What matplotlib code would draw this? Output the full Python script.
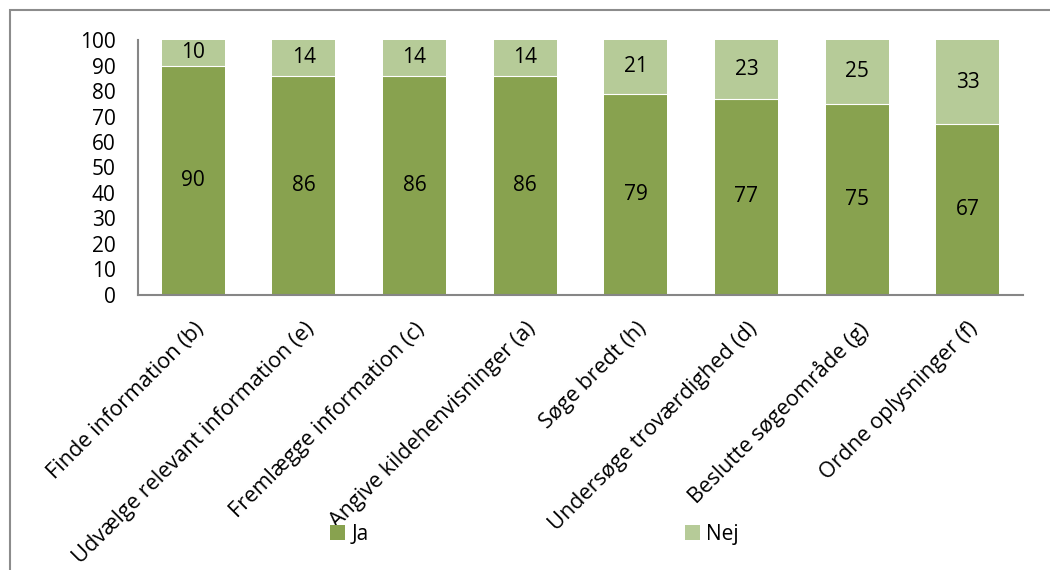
import numpy as np
import matplotlib.pyplot as plt
from matplotlib.patches import Rectangle

categories = ["Finde information (b)", "Udvælge relevant information (e)",
              "Fremlægge information (c)", "Angive kildehenvisninger (a)",
              "Søge bredt (h)", "Undersøge troværdighed (d)",
              "Beslutte søgeområde (g)", "Ordne oplysninger (f)"]
ja = [90, 86, 86, 86, 79, 77, 75, 67]
nej = [10, 14, 14, 14, 21, 23, 25, 33]
yticks = [0, 10, 20, 30, 40, 50, 60, 70, 80, 90, 100]

c_ja = '#88A24F'
c_nej = '#B6CB98'
axis_col = '#868686'

plt.rcParams['font.family'] = ['Open Sans', 'DejaVu Sans']
fs = 15
fs_cat = 15.6

fig = plt.figure(figsize=(10.5, 5.7), dpi=100)
ax = fig.add_axes([0.1314, 0.4825, 0.8429, 0.4473])

x = np.arange(len(categories))
width = 0.57
ax.bar(x, ja, width, color=c_ja, label='Ja', zorder=2)
ax.bar(x, nej, width, bottom=ja, color=c_nej, label='Nej', zorder=2)

# thin white seam between the stacked segments
for xi, j in zip(x, ja):
    ax.plot([xi - width / 2, xi + width / 2], [j, j], color='white', lw=0.8, zorder=3)

for xi, j, n in zip(x, ja, nej):
    ax.text(xi, j / 2, str(j), ha='center', va='center', fontsize=fs, zorder=4)
    ax.text(xi, j + n / 2, str(n), ha='center', va='center', fontsize=fs, zorder=4)

ax.set_xlim(-0.5, len(categories) - 0.5)
ax.set_ylim(0, 100)
ax.set_yticks(yticks)
ax.set_xticks(x)
ax.set_xticklabels(categories, rotation=45, ha='right', rotation_mode='anchor')
ax.tick_params(axis='y', length=0, pad=16, labelsize=fs)
ax.tick_params(axis='x', length=0, pad=17, labelsize=fs_cat)

for side in ['top', 'right']:
    ax.spines[side].set_visible(False)
for side in ['left', 'bottom']:
    ax.spines[side].set_color(axis_col)
    ax.spines[side].set_linewidth(1.5)

fig.legend(loc='center', bbox_to_anchor=(0.509, 0.063), ncol=2, frameon=False,
           fontsize=fs, handlelength=0.7, handleheight=0.7, handletextpad=0.3,
           columnspacing=15.2)

# outer chart frame
fig.patches.append(Rectangle((10 / 1050, -0.1), 1.2, 1 - 10 / 570 + 0.1,
                             transform=fig.transFigure, fill=False,
                             edgecolor='#8c8c8c', lw=1.5))

fig.savefig('out.png', dpi=100)
